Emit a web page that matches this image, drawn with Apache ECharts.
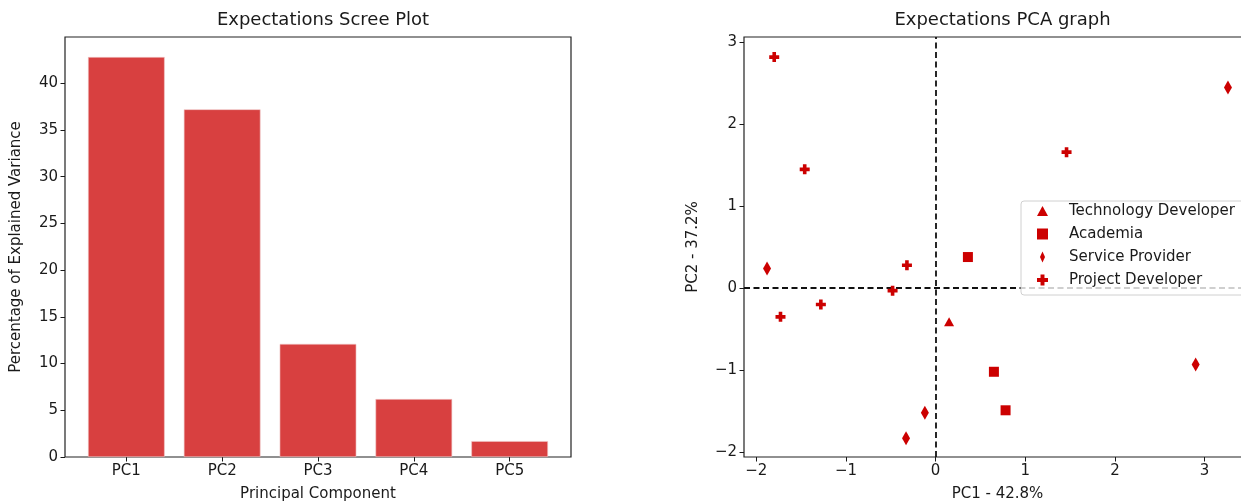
<!DOCTYPE html>
<html>
<head>
<meta charset="utf-8">
<script src="https://cdn.jsdelivr.net/npm/echarts@6/dist/echarts.min.js"></script>
<style>
  html, body { margin: 0; padding: 0; background: #fff; }
  #chart { width: 1241px; height: 504px; }
</style>
</head>
<body>
<div id="chart"></div>
<script>
  // scree plot data
  const components = ['PC1', 'PC2', 'PC3', 'PC4', 'PC5'];
  const variance = [42.8, 37.2, 12.1, 6.2, 1.7];
  const screeTicks = [0, 5, 10, 15, 20, 25, 30, 35, 40];

  // PCA scores per stakeholder group, [PC1, PC2]
  const techDev = [[0.15, -0.41]];
  const academia = [[0.36, 0.38], [0.65, -1.02], [0.78, -1.49]];
  const serviceProv = [[-1.88, 0.24], [3.26, 2.45], [2.90, -0.93], [-0.12, -1.52], [-0.33, -1.83]];
  const projectDev = [[-1.80, 2.82], [-1.46, 1.45], [1.46, 1.66], [-0.32, 0.28], [-0.48, -0.03], [-1.28, -0.20], [-1.73, -0.35]];
  const pcaTicks = [-2, -1, 0, 1, 2, 3];

  const font = 'DejaVu Sans';
  const ink = '#1a1a1a';
  const red = '#cc0000';
  const plusPath = 'path://M3.2,0H6.8V3.2H10V6.8H6.8V10H3.2V6.8H0V3.2H3.2Z';
  const diamondPath = 'path://M3,0L6,6.5L3,13L0,6.5Z';
  const trianglePath = 'path://M5,0L10,9L0,9Z';
  const squarePath = 'path://M0,0H9V9H0Z';

  const minus = v => (v < 0 ? '\u2212' + Math.abs(v) : String(v));

  const g0 = { left: 65, top: 37, width: 506, height: 420 };
  const g1 = { left: 744, top: 37, width: 507, height: 420 };
  const xMin0 = -0.64, xMax0 = 4.64;
  const barPx = 0.8 * g0.width / (xMax0 - xMin0);

  const chart = echarts.init(document.getElementById('chart'));

  const label = { color: ink, fontFamily: font, fontSize: 15 };
  const nameStyle = { color: ink, fontFamily: font, fontSize: 15 };
  const tick = vals => ({ show: true, inside: false, length: 4.5, lineStyle: { color: ink, width: 1 }, customValues: vals });
  const noLine = { show: false, onZero: false };

  chart.setOption({
    animation: false,
    textStyle: { fontFamily: font },
    title: [
      {
        text: 'Expectations Scree Plot',
        left: g0.left + g0.width / 2, top: 6, textAlign: 'center',
        textStyle: { fontFamily: font, fontSize: 18, fontWeight: 'normal', color: ink }
      },
      {
        text: 'Expectations PCA graph',
        left: g1.left + g1.width / 2, top: 6, textAlign: 'center',
        textStyle: { fontFamily: font, fontSize: 18, fontWeight: 'normal', color: ink }
      }
    ],
    grid: [
      Object.assign({ show: true, borderColor: '#222', borderWidth: 1.2, outerBoundsMode: 'none', containLabel: false }, g0),
      Object.assign({ show: true, borderColor: '#222', borderWidth: 1.2, outerBoundsMode: 'none', containLabel: false }, g1)
    ],
    legend: {
      orient: 'vertical',
      left: 1021, top: 201,
      padding: [2, 14, 7, 16],
      itemWidth: 11, itemHeight: 11, itemGap: 7,
      backgroundColor: 'rgba(255,255,255,0.8)',
      borderColor: '#d0d0d0', borderWidth: 1, borderRadius: 3,
      textStyle: { color: ink, fontFamily: font, fontSize: 15, lineHeight: 16, padding: [0, 0, 0, 16] },
      data: [
        { name: 'Technology Developer', icon: trianglePath },
        { name: 'Academia', icon: squarePath },
        { name: 'Service Provider', icon: diamondPath },
        { name: 'Project Developer', icon: plusPath }
      ]
    },
    xAxis: [
      {
        gridIndex: 0, type: 'value', min: xMin0, max: xMax0,
        name: 'Principal Component', nameLocation: 'middle', nameGap: 30, nameTextStyle: nameStyle,
        axisLine: noLine, splitLine: { show: false },
        axisTick: tick(components.map((c, i) => i)),
        axisLabel: Object.assign({ margin: 7, customValues: components.map((c, i) => i), formatter: v => components[v] }, label)
      },
      {
        gridIndex: 1, type: 'value', min: -2.137, max: 3.517,
        name: 'PC1 - 42.8%', nameLocation: 'middle', nameGap: 30, nameTextStyle: nameStyle,
        axisLine: noLine, splitLine: { show: false },
        axisTick: tick(pcaTicks),
        axisLabel: Object.assign({ margin: 7, customValues: pcaTicks, formatter: minus }, label)
      }
    ],
    yAxis: [
      {
        gridIndex: 0, type: 'value', min: 0, max: 44.94,
        name: 'Percentage of Explained Variance', nameLocation: 'middle', nameGap: 41, nameTextStyle: nameStyle,
        axisLine: noLine, splitLine: { show: false },
        axisTick: tick(screeTicks),
        axisLabel: Object.assign({ margin: 7, customValues: screeTicks }, label)
      },
      {
        gridIndex: 1, type: 'value', min: -2.06, max: 3.065,
        name: 'PC2 - 37.2%', nameLocation: 'middle', nameGap: 43, nameTextStyle: nameStyle,
        axisLine: noLine, splitLine: { show: false },
        axisTick: tick(pcaTicks),
        axisLabel: Object.assign({ margin: 7, customValues: pcaTicks, formatter: minus }, label)
      }
    ],
    series: [
      {
        type: 'bar', xAxisIndex: 0, yAxisIndex: 0,
        barWidth: barPx,
        itemStyle: { color: '#d84040', borderColor: '#f0c8c8', borderWidth: 0.6 },
        data: variance.map((v, i) => [i, v])
      },
      {
        name: 'Project Developer', type: 'scatter', xAxisIndex: 1, yAxisIndex: 1,
        symbol: plusPath, symbolSize: 10,
        itemStyle: { color: red, opacity: 1 },
        data: projectDev,
        markLine: {
          silent: true, symbol: ['none', 'none'], label: { show: false },
          lineStyle: { color: '#111', type: [6, 3.5], width: 1.8 },
          data: [{ xAxis: 0 }, { yAxis: 0 }],
          z: 1
        }
      },
      {
        name: 'Technology Developer', type: 'scatter', xAxisIndex: 1, yAxisIndex: 1,
        symbol: 'triangle', symbolSize: [10, 9],
        itemStyle: { color: red, opacity: 1 },
        data: techDev
      },
      {
        name: 'Academia', type: 'scatter', xAxisIndex: 1, yAxisIndex: 1,
        symbol: 'rect', symbolSize: 10,
        itemStyle: { color: red, opacity: 1 },
        data: academia
      },
      {
        name: 'Service Provider', type: 'scatter', xAxisIndex: 1, yAxisIndex: 1,
        symbol: 'diamond', symbolSize: [8, 14],
        itemStyle: { color: red, opacity: 1 },
        data: serviceProv
      }
    ]
  });
</script>
</body>
</html>
